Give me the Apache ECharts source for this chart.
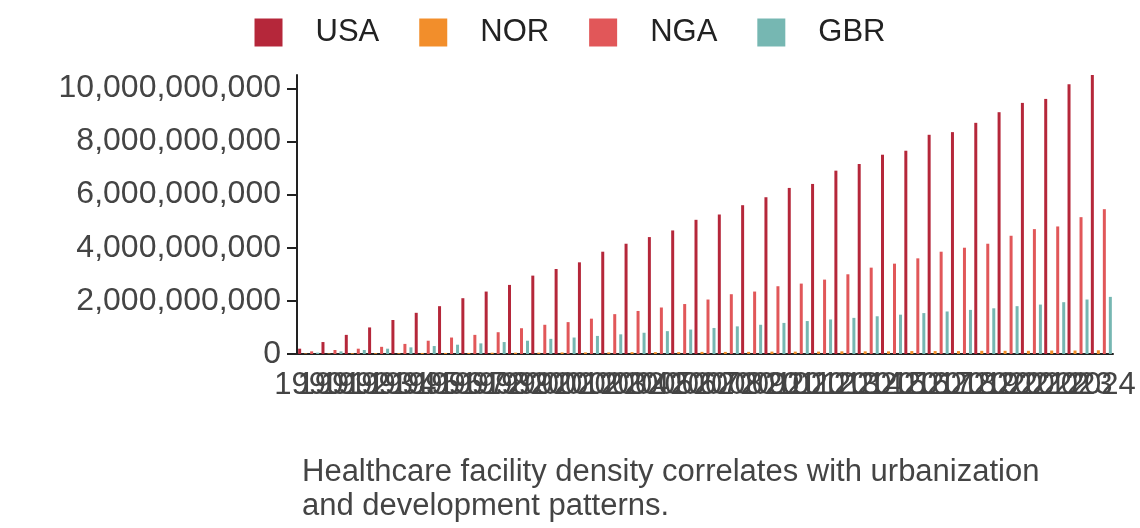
<!DOCTYPE html>
<html><head><meta charset="utf-8">
<script src="https://cdn.jsdelivr.net/npm/echarts@6/dist/echarts.min.js"></script>
<style>html,body{margin:0;padding:0;background:#fff}#c{width:1140px;height:528px}</style>
</head><body><div id="c"></div>
<script>
var years = [];
for (var y = 1990; y <= 2024; y++) years.push(String(y));
var usa = [0.2,0.45,0.72,1.0,1.28,1.55,1.8,2.1,2.35,2.6,2.95,3.2,3.45,3.85,4.15,4.4,4.65,5.05,5.25,5.6,5.9,6.25,6.4,6.9,7.15,7.5,7.65,8.25,8.35,8.7,9.1,9.45,9.6,10.15,10.5];
var nor = [0.02,0.02,0.03,0.03,0.03,0.04,0.04,0.04,0.05,0.05,0.05,0.06,0.06,0.06,0.07,0.07,0.07,0.08,0.08,0.08,0.09,0.09,0.09,0.1,0.1,0.1,0.11,0.11,0.11,0.12,0.12,0.12,0.13,0.13,0.14];
var nga = [0.1,0.15,0.2,0.27,0.38,0.5,0.62,0.72,0.82,0.97,1.1,1.2,1.33,1.5,1.62,1.75,1.88,2.05,2.25,2.35,2.55,2.65,2.8,3.0,3.25,3.4,3.6,3.85,4.0,4.15,4.45,4.7,4.8,5.15,5.45];
var gbr = [0.05,0.1,0.15,0.2,0.25,0.3,0.35,0.4,0.45,0.5,0.57,0.62,0.68,0.74,0.8,0.86,0.92,0.98,1.04,1.1,1.17,1.24,1.3,1.36,1.42,1.48,1.54,1.6,1.66,1.72,1.8,1.86,1.95,2.05,2.15];
function b(a){return a.map(function(v){return Math.round(v*1e9);});}

var chart = echarts.init(document.getElementById('c'));
var txt = '#444';
chart.setOption({
    color: ['#b5273a', '#f28e2b', '#e15759', '#76b7b2'],
    legend: {
        top: 12, left: 'center', itemWidth: 28, itemHeight: 28, itemGap: 40, icon: 'rect',
        textStyle: {fontSize: 31, color: '#222', fontFamily: 'Liberation Sans', padding: [0, 0, 0, 28]},
        data: ['USA', 'NOR', 'NGA', 'GBR']
    },
    grid: {left: 297, right: 27, top: 75, bottom: 174},
    xAxis: {
        type: 'category', data: years,
        axisLine: {lineStyle: {color: '#222', width: 2}},
        axisTick: {length: 10, lineStyle: {color: '#222', width: 2}},
        axisLabel: {interval: 0, fontSize: 31, color: txt, margin: 16, fontFamily: 'Liberation Sans'}
    },
    yAxis: {
        type: 'value', min: 0, max: 10500000000, interval: 2000000000,
        splitLine: {show: false},
        axisLine: {show: true, lineStyle: {color: '#222', width: 2}},
        axisTick: {show: true, length: 10, lineStyle: {color: '#222', width: 2}},
        axisLabel: {fontSize: 32, color: txt, margin: 16, fontFamily: 'Liberation Sans',
            formatter: function (v) { return v.toLocaleString('en-US'); }}
    },
    title: {
        text: 'Healthcare facility density correlates with urbanization\nand development patterns.',
        left: 297, top: 450,
        textStyle: {fontSize: 31, fontWeight: 'normal', color: txt, lineHeight: 34, fontFamily: 'Liberation Sans'}
    },
    series: [
        {name: 'USA', type: 'bar', data: b(usa), barWidth: 3, barGap: '100%'},
        {name: 'NOR', type: 'bar', data: b(nor), barWidth: 3},
        {name: 'NGA', type: 'bar', data: b(nga), barWidth: 3},
        {name: 'GBR', type: 'bar', data: b(gbr), barWidth: 3}
    ]
});
</script></body></html>
